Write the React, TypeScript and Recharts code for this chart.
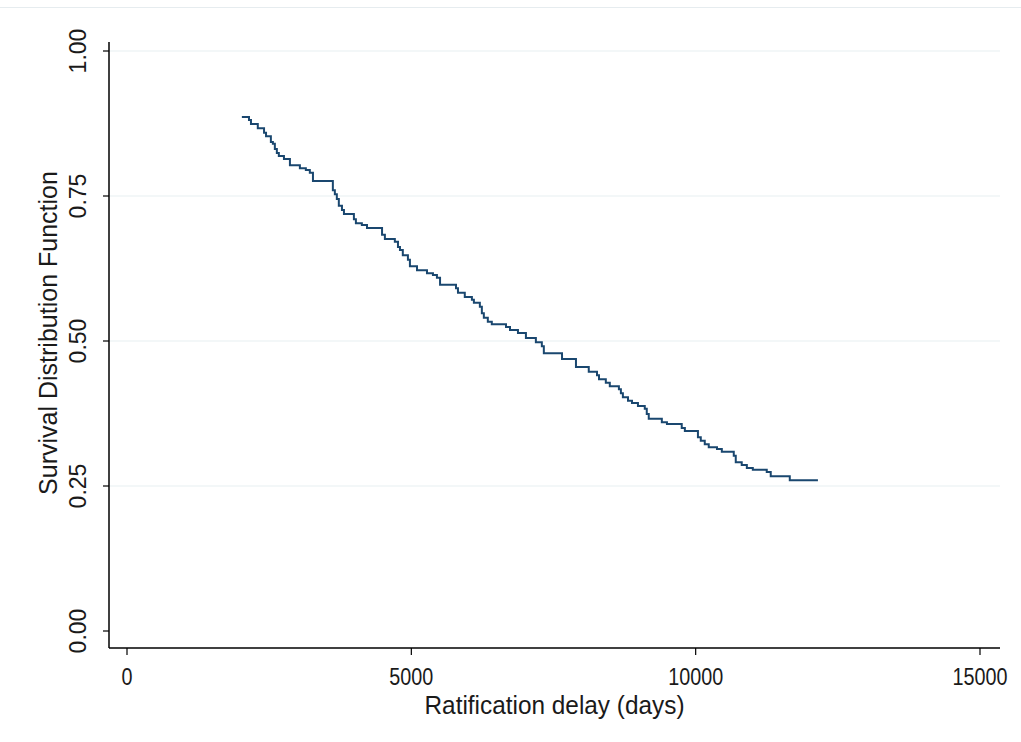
import { CartesianGrid, Line, LineChart, ReferenceLine, XAxis, YAxis } from 'recharts';

// ----------------------------------------------------------------------

const days = [
  2020, 2145, 2180, 2300, 2410, 2445, 2530, 2565, 2600, 2635, 2670, 2760, 2865, 3040, 3145, 3215,
  3270, 3620, 3655, 3690, 3725, 3780, 3815, 3990, 4025, 4130, 4220, 4485, 4535, 4710, 4765, 4800,
  4850, 4940, 4975, 5100, 5275, 5380, 5450, 5505, 5785, 5820, 5940, 6065, 6100, 6205, 6240, 6275,
  6345, 6415, 6665, 6735, 6875, 7015, 7190, 7295, 7330, 7650, 7895, 8120, 8265, 8300, 8420, 8490,
  8650, 8685, 8720, 8810, 8880, 8985, 9105, 9140, 9175, 9405, 9495, 9755, 9810, 10040, 10090,
  10160, 10230, 10375, 10460, 10670, 10705, 10810, 10900, 11005, 11250, 11320, 11655, 12150,
];

const survival = [
  0.886, 0.881, 0.874, 0.867, 0.859, 0.853, 0.843, 0.84, 0.831, 0.824, 0.819, 0.814, 0.803, 0.798,
  0.795, 0.79, 0.776, 0.76, 0.753, 0.745, 0.733, 0.726, 0.719, 0.71, 0.703, 0.7, 0.695, 0.683, 0.676,
  0.671, 0.662, 0.657, 0.648, 0.64, 0.629, 0.622, 0.617, 0.614, 0.609, 0.597, 0.591, 0.583, 0.576,
  0.571, 0.566, 0.559, 0.548, 0.54, 0.533, 0.529, 0.524, 0.519, 0.514, 0.505, 0.498, 0.491, 0.479,
  0.469, 0.455, 0.447, 0.441, 0.434, 0.428, 0.422, 0.417, 0.41, 0.403, 0.397, 0.393, 0.388, 0.383,
  0.374, 0.366, 0.36, 0.357, 0.35, 0.345, 0.334, 0.328, 0.322, 0.317, 0.314, 0.309, 0.302, 0.291,
  0.286, 0.281, 0.278, 0.274, 0.267, 0.26, 0.26,
];

const xTicks = [0, 5000, 10000, 15000];
const yTicks = [0, 0.25, 0.5, 0.75, 1];
const gridValues = [0.25, 0.5, 0.75, 1];

const data = days.map((d, i) => ({ d, s: survival[i] }));

// ----------------------------------------------------------------------

const FONT = '"Liberation Sans", Arial, sans-serif';
const INK = '#1a1a1a';
const NAVY = '#1a476f';

// the source renders its text narrow, so squeeze horizontal labels a little
function XTick({ x, y, payload }: any) {
  const label = String(payload.value);
  return (
    <text
      x={x}
      y={y + 19}
      textAnchor="middle"
      fontSize={24}
      fontFamily={FONT}
      fill={INK}
      textLength={label.length * 11}
      lengthAdjust="spacingAndGlyphs"
    >
      {label}
    </text>
  );
}

function YTick({ x, y, payload }: any) {
  const cx = x - 15;
  return (
    <text
      x={cx}
      y={y}
      transform={`rotate(-90, ${cx}, ${y})`}
      textAnchor="middle"
      fontSize={23}
      fontFamily={FONT}
      fill={INK}
    >
      {payload.value.toFixed(2)}
    </text>
  );
}

function YTitle({ viewBox }: any) {
  const cx = viewBox.x + 48;
  const cy = 333;
  return (
    <text
      x={cx}
      y={cy}
      transform={`rotate(-90, ${cx}, ${cy})`}
      textAnchor="middle"
      fontSize={25}
      fontFamily={FONT}
      fill={INK}
    >
      Survival Distribution Function
    </text>
  );
}

function XTitle({ viewBox }: any) {
  return (
    <text
      x={viewBox.x + viewBox.width / 2}
      y={viewBox.y + 66}
      textAnchor="middle"
      fontSize={25}
      fontFamily={FONT}
      fill={INK}
      textLength={260}
      lengthAdjust="spacingAndGlyphs"
    >
      Ratification delay (days)
    </text>
  );
}

// ----------------------------------------------------------------------

export default function App() {
  return (
    <div
      style={{
        position: 'absolute',
        left: 0,
        top: 0,
        width: 1021,
        height: 742,
        background: '#fff',
      }}
    >
      <div
        style={{
          position: 'absolute',
          left: 0,
          top: 7,
          width: 1021,
          borderTop: '1px solid #e6ecef',
        }}
      />
      <LineChart
        width={1021}
        height={742}
        data={data}
        margin={{ top: 42, right: 21, left: 9, bottom: 14 }}
      >
        <CartesianGrid horizontal={false} vertical={false} />
        {gridValues.map((v) => (
          <ReferenceLine key={v} y={v} stroke="#e8eff1" strokeWidth={1.2} />
        ))}
        <XAxis
          dataKey="d"
          type="number"
          domain={[0, 15000]}
          ticks={xTicks}
          allowDataOverflow
          height={80}
          padding={{ left: 18, right: 20 }}
          axisLine={{ stroke: '#000', strokeWidth: 1.5 }}
          tickLine={{ stroke: '#000', strokeWidth: 1.2 }}
          tickSize={7}
          tickMargin={11}
          tick={<XTick />}
          label={<XTitle />}
        />
        <YAxis
          type="number"
          domain={[0, 1]}
          ticks={yTicks}
          width={100}
          padding={{ top: 9, bottom: 17 }}
          axisLine={{ stroke: '#000', strokeWidth: 1.5 }}
          tickLine={{ stroke: '#000', strokeWidth: 1.2 }}
          tickSize={6}
          tick={<YTick />}
          label={<YTitle />}
        />
        <Line
          type="stepAfter"
          dataKey="s"
          stroke={NAVY}
          strokeWidth={2}
          dot={false}
          isAnimationActive={false}
        />
      </LineChart>
    </div>
  );
}
